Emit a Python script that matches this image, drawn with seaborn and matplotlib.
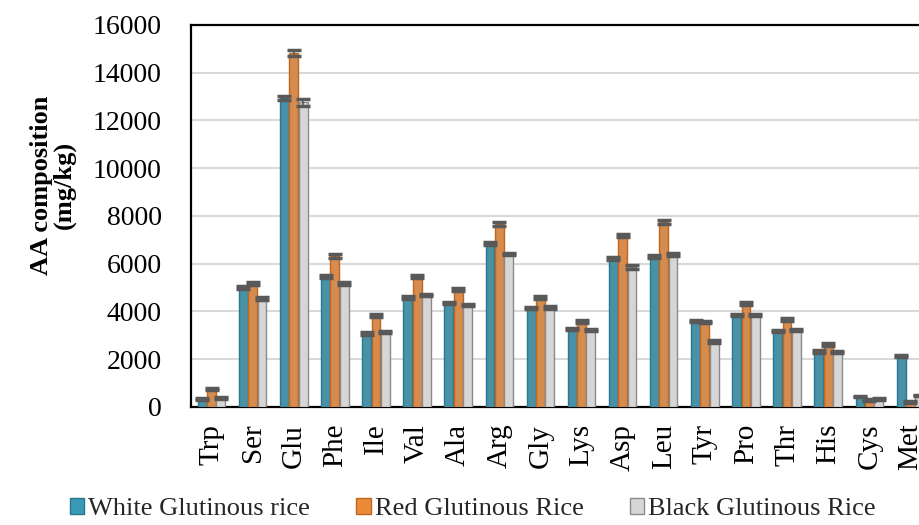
import numpy as np
import pandas as pd
import seaborn as sns
import matplotlib.pyplot as plt
from matplotlib.patches import Patch

amino_acids = ["Trp", "Ser", "Glu", "Phe", "Ile", "Val", "Ala", "Arg", "Gly",
               "Lys", "Asp", "Leu", "Tyr", "Pro", "Thr", "His", "Cys", "Met"]
samples = ["White Glutinous rice", "Red Glutinous Rice", "Black Glutinous Rice"]

white = [340, 5020, 12950, 5480, 3070, 4600, 4360, 6860, 4140,
         3270, 6230, 6290, 3610, 3850, 3180, 2330, 440, 2130]
red = [750, 5160, 14820, 6320, 3830, 5470, 4910, 7650, 4590,
       3580, 7170, 7740, 3570, 4320, 3670, 2620, 300, 210]
black = [380, 4560, 12760, 5160, 3140, 4690, 4280, 6410, 4170,
         3230, 5860, 6400, 2750, 3860, 3230, 2300, 340, 480]

white_err = [40, 60, 80, 60, 50, 60, 50, 60, 50, 50, 60, 60, 50, 50, 50, 50, 40, 50]
red_err = [50, 70, 130, 70, 50, 60, 60, 80, 60, 60, 70, 90, 50, 60, 60, 50, 40, 40]
black_err = [40, 60, 150, 60, 50, 60, 50, 60, 50, 50, 80, 60, 50, 50, 50, 50, 40, 40]

colors = ["#3a9ab5", "#eb8a38", "#d6d6d6"]
edges = ["#2a7890", "#c0671f", "#8a8a8a"]

df = pd.DataFrame({
    "aa": amino_acids * 3,
    "sample": np.repeat(samples, len(amino_acids)),
    "value": white + red + black,
})

sns.set_theme(style="white")
plt.rcParams["font.family"] = ["Liberation Serif", "DejaVu Serif"]

fig = plt.figure(figsize=(9.2, 5.25), dpi=100)
ax = fig.add_axes([0.2076, 0.2248, 0.8043, 0.7276])

sns.barplot(data=df, x="aa", y="value", hue="sample", palette=colors,
            width=0.68, gap=0.05, errorbar=None, ax=ax, legend=False, zorder=3)

errs = [white_err, red_err, black_err]
for cont, ec, err in zip(ax.containers, edges, errs):
    xs = []
    ys = []
    for bar in cont:
        bar.set_edgecolor(ec)
        bar.set_linewidth(1.0)
        xs.append(bar.get_x() + bar.get_width() / 2)
        ys.append(bar.get_height())
    ax.errorbar(xs, ys, yerr=err, fmt="none", ecolor="#595959",
                elinewidth=1.2, capsize=5, capthick=2.5, zorder=4)

ax.set_ylim(0, 16000)
ax.set_yticks(range(0, 16001, 2000))
ax.set_xlim(-0.5, len(amino_acids) - 0.5)
ax.yaxis.grid(True, color="#d9d9d9", linewidth=1.5, zorder=0)
ax.set_axisbelow(True)

for s in ax.spines.values():
    s.set_color("black")
    s.set_linewidth(1.6)

ax.tick_params(axis="y", length=0, pad=21, labelsize=20, colors="black")
ax.tick_params(axis="x", length=0, pad=12, labelsize=21, colors="black",
               labelrotation=90)
ax.set_xlabel("")
ax.set_ylabel("AA composition\n(mg/kg)", fontsize=19, fontweight="bold",
              color="black", linespacing=1.0)
ax.yaxis.set_label_coords(-0.155, 0.58)

handles = [Patch(facecolor=c, edgecolor=e, linewidth=1.0) for c, e in zip(colors, edges)]
fig.legend(handles, samples, loc="lower center", ncol=3, frameon=False,
           bbox_to_anchor=(0.514, -0.036), fontsize=19, handlelength=0.55,
           handleheight=0.55, handletextpad=0.15, columnspacing=1.75)

fig.savefig("out.png", dpi=100)
